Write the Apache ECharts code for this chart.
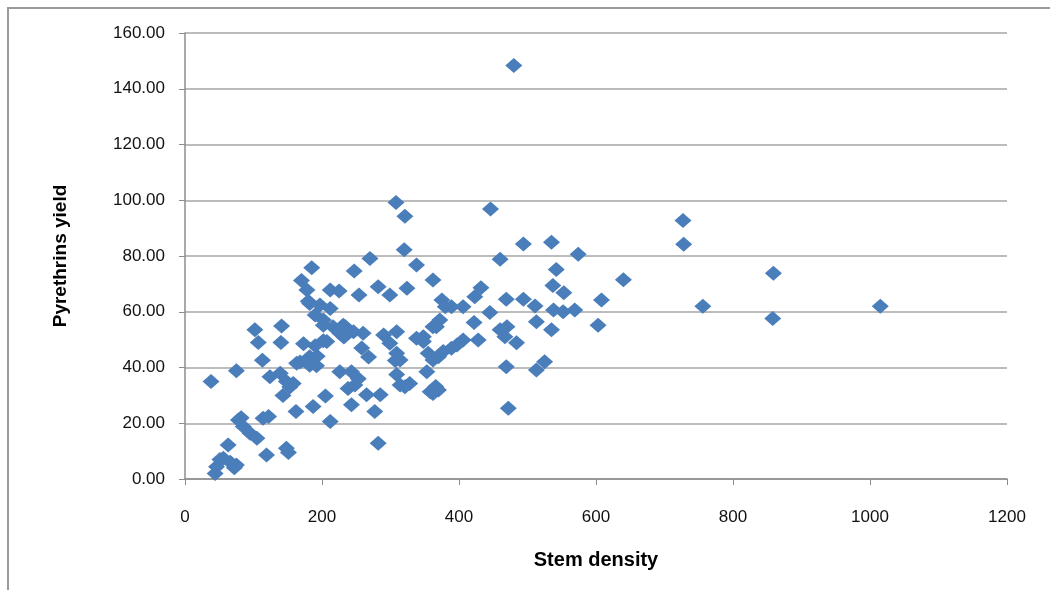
<!DOCTYPE html>
<html>
<head>
<meta charset="utf-8">
<script src="https://cdn.jsdelivr.net/npm/echarts@6/dist/echarts.min.js"></script>
<style>
  html, body { margin: 0; padding: 0; background: #fff; }
  #chart { width: 1050px; height: 590px; }
</style>
</head>
<body>
<div id="chart"></div>
<script>
// stem density (x) and pyrethrins yield (y)
const stemDensity = [
  38, 44, 46, 51, 56, 66, 75, 72, 63, 75,
  78, 82, 85, 95, 105, 102, 107, 113, 114, 122,
  119, 124, 141, 140, 139, 148, 153, 143, 148, 151,
  162, 168, 173, 170, 178, 185, 180, 187, 182, 190,
  192, 182, 202, 193, 182, 197, 212, 190, 202, 205,
  212, 212, 225, 216, 226, 202, 234, 246, 231, 207,
  226, 243, 253, 248, 238, 243, 247, 254, 260, 258,
  268, 265, 270, 277, 282, 282, 285, 290, 299, 299,
  308, 321, 320, 324, 338, 309, 309, 314, 309, 314,
  321, 328, 338, 348, 307, 353, 362, 362, 362, 348,
  367, 372, 375, 380, 389, 406, 355, 362, 370, 377,
  389, 397, 406, 370, 358, 366, 422, 423, 432, 428,
  445, 446, 460, 460, 470, 467, 469, 469, 472, 480,
  484, 494, 494, 511, 513, 513, 525, 535, 537, 542,
  535, 538, 552, 553, 569, 574, 603, 608, 640, 727,
  728, 756, 859, 858, 1015, 163, 158, 232
];
const pyrethrinsYield = [
  35.0, 2.0, 4.4, 7.0, 7.4, 6.0, 5.0, 4.0, 12.2, 38.8,
  21.2, 22.0, 18.8, 16.4, 14.6, 53.5, 49.0, 42.6, 21.8, 22.4,
  8.6, 36.7, 54.9, 49.0, 37.9, 35.0, 33.0, 30.0, 11.0, 9.5,
  24.2, 42.0, 48.5, 71.2, 67.8, 75.8, 63.8, 26.0, 43.9, 47.8,
  40.6, 40.8, 49.6, 44.0, 63.0, 62.4, 61.2, 58.8, 57.0, 29.8,
  20.6, 67.8, 67.4, 54.6, 52.3, 55.2, 54.6, 52.8, 55.2, 49.3,
  38.5, 38.5, 36.0, 33.7, 32.5, 26.6, 74.6, 66.0, 52.3, 47.0,
  43.8, 30.2, 79.1, 24.2, 69.0, 12.8, 30.2, 51.7, 66.0, 48.7,
  99.2, 94.3, 82.2, 68.4, 76.8, 52.8, 45.1, 42.7, 37.5, 33.7,
  33.1, 34.3, 50.5, 49.3, 42.5, 38.5, 30.7, 71.4, 54.6, 51.0,
  54.6, 57.0, 64.2, 61.8, 61.8, 61.8, 45.1, 42.7, 43.9, 45.7,
  46.9, 48.1, 49.9, 31.9, 31.3, 33.2, 56.1, 65.4, 68.6, 49.9,
  59.7, 96.9, 78.8, 53.5, 54.6, 51.0, 64.5, 40.3, 25.4, 148.3,
  48.9, 84.3, 64.5, 62.1, 56.4, 39.1, 42.1, 84.9, 69.4, 75.2,
  53.5, 60.6, 60.0, 66.8, 60.6, 80.6, 55.2, 64.2, 71.5, 92.7,
  84.2, 62.0, 73.8, 57.6, 62.0, 41.5, 34.3, 50.9
];
const xTicks = [0, 200, 400, 600, 800, 1000, 1200];
const yTicks = [0, 20, 40, 60, 80, 100, 120, 140, 160];

const points = stemDensity.map((x, i) => [x, pyrethrinsYield[i]]);

const chart = echarts.init(document.getElementById("chart"));
const labelFont = "'Liberation Sans', sans-serif";

chart.setOption({
  animation: false,
  backgroundColor: "#fff",
  graphic: [
    {
      type: "polyline",
      shape: { points: [[8, 590], [8, 8], [1050, 8]] },
      style: { stroke: "#9a9a9a", lineWidth: 2, fill: null }
    }
  ],
  grid: {
    left: 185,
    right: 43,
    top: 33,
    bottom: 111
  },
  xAxis: {
    type: "value",
    min: xTicks[0],
    max: xTicks[xTicks.length - 1],
    interval: 200,
    name: "Stem density",
    nameLocation: "middle",
    nameGap: 71,
    nameTextStyle: {
      fontFamily: "'Liberation Sans', sans-serif",
      fontWeight: "bold",
      fontSize: 20,
      color: "#000"
    },
    axisLine: { show: true, lineStyle: { color: "#8c8c8c", width: 1.5 } },
    axisTick: { show: true, length: 6, lineStyle: { color: "#8c8c8c" } },
    axisLabel: {
      margin: 30,
      fontFamily: labelFont,
      fontSize: 17,
      color: "#111",
      formatter: v => String(v)
    },
    splitLine: { show: false }
  },
  yAxis: {
    type: "value",
    min: yTicks[0],
    max: yTicks[yTicks.length - 1],
    interval: 20,
    name: "Pyrethrins yield",
    nameLocation: "middle",
    nameGap: 115,
    nameTextStyle: {
      fontFamily: "'Liberation Sans', sans-serif",
      fontWeight: "bold",
      fontSize: 19,
      color: "#000"
    },
    axisLine: { show: true, lineStyle: { color: "#8c8c8c", width: 1.5 } },
    axisTick: { show: true, length: 6, lineStyle: { color: "#8c8c8c" } },
    axisLabel: {
      margin: 20,
      fontFamily: labelFont,
      fontSize: 17,
      color: "#111",
      formatter: v => v.toFixed(2)
    },
    splitLine: { show: true, lineStyle: { color: "#a6a6a6", width: 1.5 } }
  },
  series: [
    {
      type: "scatter",
      data: points,
      symbol: "diamond",
      symbolSize: [17, 15],
      itemStyle: { color: "#4a7ebb", opacity: 1 }
    }
  ]
});
</script>
</body>
</html>
